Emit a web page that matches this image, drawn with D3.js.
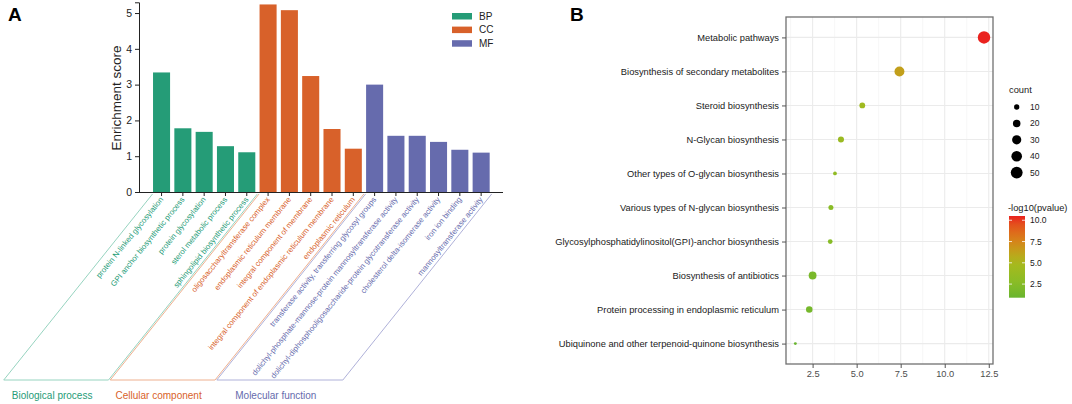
<!DOCTYPE html>
<html>
<head>
<meta charset="utf-8">
<script src="https://cdn.jsdelivr.net/npm/d3@7"></script>
<style>
  body { margin: 0; background: #fff; }
  svg { font-family: "Liberation Sans", Arial, sans-serif; display: block; }
</style>
</head>
<body>
<div id="chart"></div>
<script>
// ---- data: panel A (GO enrichment)
const goTerms = [
  "protein N-linked glycosylation",
  "GPI anchor biosynthetic process",
  "protein glycosylation",
  "sterol metabolic process",
  "sphingolipid biosynthetic process",
  "oligosaccharyltransferase complex",
  "endoplasmic reticulum membrane",
  "integral component of membrane",
  "integral component of endoplasmic reticulum membrane",
  "endoplasmic reticulum",
  "transferase activity, transferring glycosyl groups",
  "dolichyl-phosphate-mannose-protein mannosyltransferase activity",
  "dolichyl-diphosphooligosaccharide-protein glycotransferase activity",
  "cholesterol delta-isomerase activity",
  "iron ion binding",
  "mannosyltransferase activity"
]
const goScores = [3.34, 1.78, 1.68, 1.28, 1.11, 5.24, 5.08, 3.24, 1.76, 1.21, 3.0, 1.57, 1.57, 1.4, 1.18, 1.1]
const goGroups = ["BP", "BP", "BP", "BP", "BP", "CC", "CC", "CC", "CC", "CC", "MF", "MF", "MF", "MF", "MF", "MF"]
const groupKeys = ["BP", "CC", "MF"]
const groupNames = ["Biological process", "Cellular component", "Molecular function"]
const yTicksA = [0, 1, 2, 3, 4, 5]

// ---- data: panel B (KEGG dot plot)
const keggTerms = [
  "Metabolic pathways",
  "Biosynthesis of secondary metabolites",
  "Steroid biosynthesis",
  "N-Glycan biosynthesis",
  "Other types of O-glycan biosynthesis",
  "Various types of N-glycan biosynthesis",
  "Glycosylphosphatidylinositol(GPI)-anchor biosynthesis",
  "Biosynthesis of antibiotics",
  "Protein processing in endoplasmic reticulum",
  "Ubiquinone and other terpenoid-quinone biosynthesis"
]
const keggX = [12.23, 7.43, 5.32, 4.11, 3.77, 3.54, 3.5, 2.5, 2.31, 1.52]
const keggCount = [55, 35, 12, 13, 5, 9, 8, 22, 15, 3]
const keggLogP = [10.5, 6.3, 4.4, 3.9, 3.3, 2.7, 2.6, 1.8, 1.6, 0.9]
const xTicksB = [2.5, 5.0, 7.5, 10.0, 12.5]
const xMinorB = [1.25, 3.75, 6.25, 8.75, 11.25]
const sizeBreaks = [10, 20, 30, 40, 50]
const colorBreaks = [2.5, 5.0, 7.5, 10.0]

const width = 1072
const height = 404

const svg = d3
  .select("#chart")
  .append("svg")
  .attr("width", width)
  .attr("height", height)

const groupColor = d3.scaleOrdinal().domain(groupKeys).range(["#259c77", "#d8612a", "#666bad"])
const lineColor = d3.scaleOrdinal().domain(groupKeys).range(["#97d4c0", "#eeb08f", "#afb1d9"])

// panel letters
svg.append("text").attr("x", 8).attr("y", 21).attr("font-size", 19).attr("font-weight", "bold").text("A")
svg.append("text").attr("x", 570).attr("y", 21).attr("font-size", 19).attr("font-weight", "bold").text("B")

// ================= panel A
const axisY = 192
const axisX = 139
const slant = 0.8   // dx per dy of the slanted label boxes
const boxBottom = 380

const xA = d3.scaleBand()
  .domain(goTerms)
  .range([150.9, 491.8])
  .paddingInner(0.2)
  .paddingOuter(0.1)

const yA = d3.scaleLinear().domain([0, 5.3]).range([axisY, 2.3])

const panelA = svg.append("g")

// bars
panelA.selectAll("rect.bar")
  .data(goTerms)
  .enter()
  .append("rect")
  .attr("class", "bar")
  .attr("x", d => xA(d))
  .attr("width", xA.bandwidth())
  .attr("y", (d, i) => yA(goScores[i]))
  .attr("height", (d, i) => axisY - yA(goScores[i]))
  .attr("fill", (d, i) => groupColor(goGroups[i]))

// y axis
const yAxisA = panelA.append("g")
  .attr("transform", "translate(" + axisX + ",0)")
  .call(d3.axisLeft(yA).tickValues(yTicksA).tickSize(4).tickFormat(d3.format("d")))
yAxisA.select(".domain").attr("stroke", "#222").attr("stroke-width", 1)
yAxisA.selectAll(".tick line").attr("stroke", "#222")
yAxisA.selectAll(".tick text").attr("font-size", 10.5).attr("fill", "#222").attr("font-family", null)

// x axis
const xAxisA = panelA.append("g")
  .attr("transform", "translate(0," + axisY + ")")
  .call(d3.axisBottom(xA).tickSize(4).tickFormat(""))
xAxisA.select(".domain").attr("d", "M" + axisX + ",0.5H503").attr("stroke", "#222")
xAxisA.selectAll(".tick line").attr("stroke", "#222")

panelA.append("text")
  .attr("transform", "translate(121,98) rotate(-90)")
  .attr("text-anchor", "middle")
  .attr("font-size", 13.5)
  .attr("fill", "#222")
  .text("Enrichment score")

// slanted group boxes
groupKeys.forEach(function(g, gi) {
  const terms = goTerms.filter((d, i) => goGroups[i] === g)
  const left = xA(terms[0]) - 0.5
  const right = xA(terms[terms.length - 1]) + xA.bandwidth() + 2
  const top = axisY + 2
  const drop = (boxBottom - top) * slant
  panelA.append("path")
    .attr("d", "M" + left + "," + top +
      "L" + (left - drop) + "," + boxBottom +
      "L" + (right - drop) + "," + boxBottom +
      "L" + right + "," + top)
    .attr("fill", "none")
    .attr("stroke", lineColor(g))
    .attr("stroke-width", 1)

  panelA.append("text")
    .attr("x", (left + right) / 2 - drop - 4)
    .attr("y", 399)
    .attr("text-anchor", "middle")
    .attr("font-size", 10)
    .attr("fill", groupColor(g))
    .text(groupNames[gi])
})

// rotated term labels
panelA.selectAll("text.term")
  .data(goTerms)
  .enter()
  .append("text")
  .attr("class", "term")
  .attr("transform", d => "translate(" + (xA(d) + xA.bandwidth() / 2) + "," + (axisY + 6) + ") rotate(-51)")
  .attr("text-anchor", "end")
  .attr("dy", "0.35em")
  .attr("font-size", 7.8)
  .attr("fill", (d, i) => groupColor(goGroups[i]))
  .text(d => d)

// legend
const legA = panelA.append("g")
groupKeys.forEach(function(g, i) {
  legA.append("rect")
    .attr("x", 452)
    .attr("y", 13 + i * 13.6)
    .attr("width", 20)
    .attr("height", 6.5)
    .attr("fill", groupColor(g))
  legA.append("text")
    .attr("x", 479)
    .attr("y", 16.3 + i * 13.6)
    .attr("dy", "0.35em")
    .attr("font-size", 10)
    .attr("fill", "#222")
    .text(g)
})

// ================= panel B
const pLeft = 786
const pRight = 993
const pTop = 17
const pBottom = 364

const xB = d3.scaleLinear().domain([0.99, 12.74]).range([pLeft, pRight])
const yB = d3.scalePoint().domain(keggTerms).range([pTop, pBottom]).padding(0.6)
const rB = d3.scaleSqrt().domain([0, 60]).range([0, 6.5])
const cB = d3.scaleLinear()
  .domain([0.9, 2.5, 5, 7.5, 10.5])
  .range(["#69b52f", "#86bc27", "#a8b91d", "#d5851a", "#ea221e"])
  .interpolate(d3.interpolateLab)

const panelB = svg.append("g")

// grid
panelB.selectAll("line.minor")
  .data(xMinorB)
  .enter()
  .append("line")
  .attr("x1", d => xB(d)).attr("x2", d => xB(d))
  .attr("y1", pTop).attr("y2", pBottom)
  .attr("stroke", "#f2f2f2")
  .attr("stroke-width", 0.6)
panelB.selectAll("line.vmajor")
  .data(xTicksB)
  .enter()
  .append("line")
  .attr("x1", d => xB(d)).attr("x2", d => xB(d))
  .attr("y1", pTop).attr("y2", pBottom)
  .attr("stroke", "#ebebeb")
  .attr("stroke-width", 1.1)
panelB.selectAll("line.hmajor")
  .data(keggTerms)
  .enter()
  .append("line")
  .attr("x1", pLeft).attr("x2", pRight)
  .attr("y1", d => yB(d)).attr("y2", d => yB(d))
  .attr("stroke", "#ebebeb")
  .attr("stroke-width", 1.1)

// points
panelB.selectAll("circle.dot")
  .data(keggTerms)
  .enter()
  .append("circle")
  .attr("class", "dot")
  .attr("cx", (d, i) => xB(keggX[i]))
  .attr("cy", d => yB(d))
  .attr("r", (d, i) => rB(keggCount[i]))
  .attr("fill", (d, i) => cB(keggLogP[i]))

// border
panelB.append("rect")
  .attr("x", pLeft).attr("y", pTop)
  .attr("width", pRight - pLeft).attr("height", pBottom - pTop)
  .attr("fill", "none")
  .attr("stroke", "#707070")
  .attr("stroke-width", 1.3)

// axes
const yAxisB = panelB.append("g")
  .attr("transform", "translate(" + pLeft + ",0)")
  .call(d3.axisLeft(yB).tickSize(4).tickPadding(3))
yAxisB.select(".domain").remove()
yAxisB.selectAll(".tick line").attr("stroke", "#555")
yAxisB.selectAll(".tick text").attr("font-size", 9.3).attr("fill", "#1a1a1a").attr("font-family", null)

const xAxisB = panelB.append("g")
  .attr("transform", "translate(0," + pBottom + ")")
  .call(d3.axisBottom(xB).tickValues(xTicksB).tickSize(4).tickPadding(2).tickFormat(d3.format(".1f")))
xAxisB.select(".domain").remove()
xAxisB.selectAll(".tick line").attr("stroke", "#555")
xAxisB.selectAll(".tick text").attr("font-size", 9.3).attr("fill", "#4d4d4d").attr("font-family", null)

// size legend
const legB = panelB.append("g")
legB.append("text").attr("x", 1009).attr("y", 93).attr("font-size", 9.3).attr("fill", "#1a1a1a").text("count")
sizeBreaks.forEach(function(s, i) {
  const cy = 107 + i * 16.4
  legB.append("circle").attr("cx", 1016.7).attr("cy", cy).attr("r", rB(s)).attr("fill", "#000")
  legB.append("text").attr("x", 1030).attr("y", cy).attr("dy", "0.35em")
    .attr("font-size", 8.5).attr("fill", "#1a1a1a").text(s)
})

// colour bar
const cbY = d3.scaleLinear().domain([0.9, 10.5]).range([297.7, 216])
const grad = svg.append("defs").append("linearGradient")
  .attr("id", "cbar")
  .attr("x1", 0).attr("y1", 1).attr("x2", 0).attr("y2", 0)
d3.range(0, 1.0001, 0.1).forEach(function(t) {
  grad.append("stop")
    .attr("offset", t)
    .attr("stop-color", cB(0.9 + t * (10.5 - 0.9)))
})
legB.append("text").attr("x", 1008).attr("y", 211).attr("font-size", 9.3).attr("fill", "#1a1a1a").text("-log10(pvalue)")
legB.append("rect")
  .attr("x", 1009).attr("y", cbY(10.5))
  .attr("width", 16).attr("height", cbY(0.9) - cbY(10.5))
  .attr("fill", "url(#cbar)")
colorBreaks.forEach(function(v) {
  const y = cbY(v)
  legB.append("line").attr("x1", 1009).attr("x2", 1012).attr("y1", y).attr("y2", y).attr("stroke", "#fff").attr("stroke-width", 0.8)
  legB.append("line").attr("x1", 1022).attr("x2", 1025).attr("y1", y).attr("y2", y).attr("stroke", "#fff").attr("stroke-width", 0.8)
  legB.append("text").attr("x", 1030).attr("y", y).attr("dy", "0.35em")
    .attr("font-size", 8.5).attr("fill", "#1a1a1a").text(d3.format(".1f")(v))
})
</script>
</body>
</html>
